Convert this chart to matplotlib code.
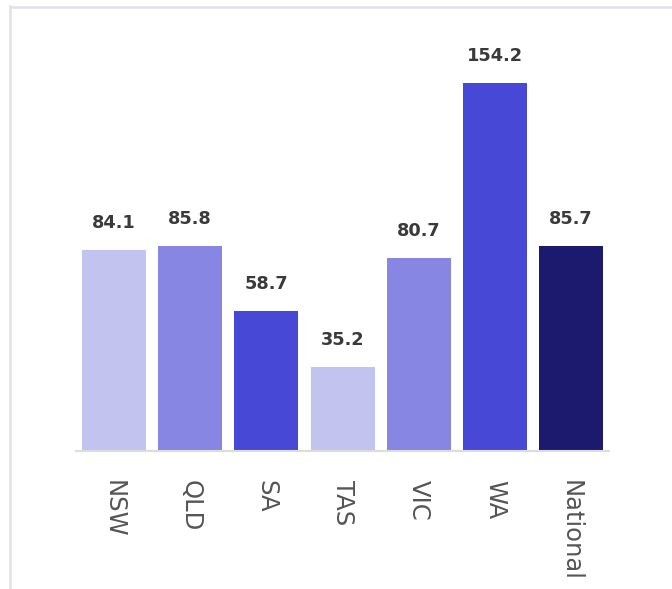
import matplotlib
matplotlib.use("Agg")
import matplotlib.pyplot as plt
from matplotlib.lines import Line2D

# data
regions = ["NSW", "QLD", "SA", "TAS", "VIC", "WA", "National"]
values = [84.1, 85.8, 58.7, 35.2, 80.7, 154.2, 85.7]
colors = ["#c3c3ef", "#8787e3", "#4848d6", "#c3c3ef", "#8787e3", "#4848d6", "#1b1a6e"]

fig = plt.figure(figsize=(6.72, 5.89), dpi=100)
ax = fig.add_axes([0.1131, 0.2343, 0.7932, 0.689])

x = range(len(regions))
bars = ax.bar(x, values, width=0.84, color=colors)

for b, v in zip(bars, values):
    ax.annotate(f"{v}", (b.get_x() + b.get_width() / 2, v),
                xytext=(0, 13), textcoords="offset points",
                ha="center", va="bottom", fontsize=12.8,
                fontweight="bold", color="#3a3a3a")

ax.set_xlim(-0.5, len(regions) - 0.5)
ax.set_ylim(0, 170)
ax.set_xticks(list(x))
ax.set_xticklabels(regions, rotation=-90, fontsize=17.5, color="#555555", va="top")
ax.tick_params(axis="x", length=0, pad=21)
ax.set_yticks([])
for s in ["top", "right", "left"]:
    ax.spines[s].set_visible(False)
ax.spines["bottom"].set_color("#dcdcdc")
ax.spines["bottom"].set_linewidth(1.5)

# card border (left and top)
fig.add_artist(Line2D([9.5 / 672, 9.5 / 672], [0, 1 - 6 / 589],
                      transform=fig.transFigure, color="#e0e0e6", lw=1.8))
fig.add_artist(Line2D([9.5 / 672, 1], [1 - 7 / 589, 1 - 7 / 589],
                      transform=fig.transFigure, color="#e0e0e6", lw=1.8))

fig.savefig("out.png", dpi=100)
